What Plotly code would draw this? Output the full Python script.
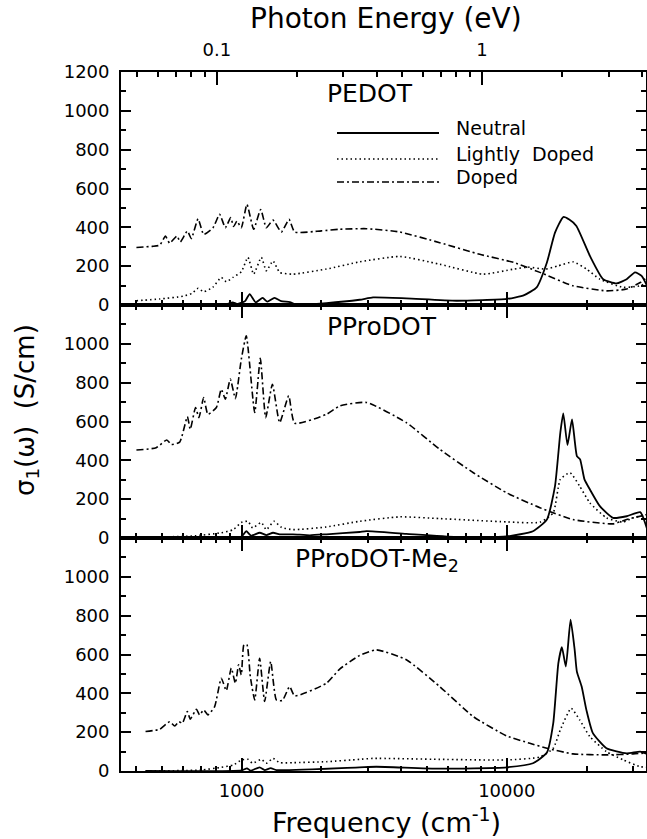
import math
import plotly.graph_objects as go

# ---------------- data ----------------
# PEDOT (top panel)
pedot_neutral_f = [400, 803, 880, 925, 960, 1000, 1030, 1072, 1130, 1200, 1250, 1330, 1410, 1520, 1600, 2088, 2785,
                   3130, 4180, 6450, 9980, 11630, 12960, 14170, 15200, 16330, 17200, 18300, 20580, 23090, 25940,
                   28320, 30450, 32250, 33800]
pedot_neutral_v = [0, 0, 5, 14, 5, 12, 20, 56, 14, 37, 17, 37, 20, 15, 3, 10, 27,
                   39, 34, 22, 31, 51, 91, 219, 373, 453, 440, 407, 253, 133, 111,
                   133, 168, 150, 99]
pedot_light_f = [401, 491, 600, 650, 685, 719, 778, 838, 875, 927, 997, 1056, 1110, 1186, 1239, 1313, 1391, 1562,
                 2088, 2785, 3947, 5584, 8140, 10630, 12000, 14000, 15500, 17780, 20000, 22440, 27500, 31860, 33800]
pedot_light_v = [22, 31, 45, 60, 86, 68, 91, 142, 120, 142, 171, 245, 159, 245, 176, 227, 168, 159,
                 185, 222, 250, 210, 159, 185, 195, 185, 200, 222, 185, 133, 91, 99, 118]
pedot_doped_f = [401, 460, 491, 516, 535, 570, 587, 624, 646, 685, 719, 780, 826, 868, 909, 933, 960, 997, 1047,
                 1110, 1180, 1239, 1313, 1412, 1509, 1585, 2000, 2343, 2955, 3947, 5584, 7906, 10630, 13330,
                 17780, 23760, 28320, 31860, 33800]
pedot_doped_v = [296, 302, 308, 355, 318, 355, 325, 381, 342, 444, 364, 398, 467, 398, 450, 404, 432, 398, 518,
                 390, 492, 398, 437, 376, 441, 376, 382, 390, 393, 376, 321, 261, 219, 168,
                 99, 73, 82, 116, 142]

# PProDOT (middle panel)
pprodot_neutral_f = [401, 900, 1000, 1041, 1085, 1170, 1239, 1313, 1391, 1562, 1808, 2088, 2785, 2955, 4180, 6450,
                     9980, 12550, 14170, 15200, 15920, 16330, 16940, 17620, 18380, 18900, 19630, 20580, 22440,
                     25160, 28320, 31860, 33800]
pprodot_neutral_v = [0, 3, 8, 35, 12, 27, 15, 27, 19, 19, 14, 19, 31, 35, 21, 5,
                     8, 35, 95, 267, 543, 642, 479, 611, 422, 405, 302, 250, 164,
                     104, 112, 133, 47]
pprodot_light_f = [401, 650, 838, 930, 997, 1056, 1100, 1186, 1239, 1325, 1412, 1562, 2088, 2785, 3947, 5584,
                   9980, 13330, 14970, 15920, 17320, 18830, 20580, 23760, 27500, 29980, 33800]
pprodot_light_v = [3, 10, 27, 43, 80, 86, 52, 80, 43, 86, 55, 43, 57, 86, 109, 100,
                   83, 81, 130, 302, 336, 267, 181, 104, 82, 104, 121]
pprodot_doped_f = [401, 476, 522, 543, 584, 624, 640, 670, 690, 719, 746, 803, 838, 868, 906, 947, 997, 1041,
                   1120, 1176, 1232, 1306, 1391, 1505, 1585, 2088, 2343, 2955, 4180, 5584, 7480, 9980, 13330,
                   17780, 25160, 28320, 33800]
pprodot_doped_v = [453, 465, 505, 482, 494, 625, 560, 672, 620, 723, 637, 672, 766, 715, 818, 718, 921, 1041,
                   646, 925, 620, 792, 594, 732, 591, 637, 680, 698, 594, 457, 336, 233, 156,
                   95, 73, 95, 121]

# PProDOT-Me2 (bottom panel)
me2_neutral_f = [434, 1000, 1047, 1080, 1169, 1221, 1287, 1352, 2785, 3220, 5584, 9980, 12550, 14170, 14970,
                 15650, 16140, 16700, 17400, 18030, 18380, 19160, 19960, 21120, 23760, 28320, 31860, 33800]
me2_neutral_v = [0, 3, 14, 2, 19, 5, 15, 5, 19, 22, 12, 19, 40, 95, 246,
                 556, 638, 538, 779, 624, 512, 435, 315, 195, 117, 91, 100, 88]
me2_light_f = [434, 700, 838, 930, 1000, 1056, 1100, 1186, 1239, 1313, 1391, 1562, 2088, 2785, 3130, 5584,
               9980, 13330, 14970, 15920, 17490, 18830, 20580, 23760, 27500, 31860, 33800]
me2_light_v = [0, 5, 19, 31, 57, 60, 40, 60, 40, 65, 43, 43, 48, 60, 65, 60,
               57, 72, 117, 212, 323, 263, 177, 100, 57, 22, 19]
me2_doped_f = [434, 491, 535, 559, 580, 597, 624, 640, 675, 694, 719, 746, 791, 838, 875, 914, 947, 974, 997,
               1020, 1047, 1078, 1120, 1169, 1221, 1287, 1352, 1424, 1517, 1585, 2088, 2343, 2785, 3220, 4180,
               5584, 7480, 9980, 12210, 14170, 17780, 23760, 29980, 33800]
me2_doped_v = [203, 215, 254, 232, 254, 246, 306, 267, 318, 289, 315, 289, 332, 478, 414, 530, 452, 547, 495,
               650, 650, 487, 366, 581, 358, 564, 366, 363, 435, 387, 452, 525, 595, 624, 573,
               435, 280, 181, 143, 117, 88, 83, 88, 93]

panel_names = ["PEDOT", "PProDOT", "PProDOT-Me<sub>2</sub>"]
legend_names = ["Neutral", "Lightly  Doped", "Doped"]

# axis ticks
freq_major = [1000, 10000]
freq_major_text = ["1000", "10000"]
freq_minor = [400, 500, 600, 700, 800, 900, 2000, 3000, 4000, 5000, 6000, 7000, 8000, 9000, 20000, 30000]
ev_major = [0.1, 1]
ev_major_text = ["0.1", "1"]
ev_minor = [0.05, 0.06, 0.07, 0.08, 0.09, 0.2, 0.3, 0.4, 0.5, 0.6, 0.7, 0.8, 0.9, 2, 3, 4]
y_major_top = [0, 200, 400, 600, 800, 1000, 1200]
y_major = [0, 200, 400, 600, 800, 1000]
y_minor = [100, 300, 500, 700, 900, 1100]

EV_TO_CM = 8065.54
XMIN, XMAX = 350.7, 33500

# ---------------- figure ----------------
FONT = "DejaVu Sans"
W, H = 647, 839
ML, MR, MT, MB = 121, 1, 72, 68
PW = W - ML - MR
PH = H - MT - MB


def px2paper_x(px):
    return (px - ML) / PW


def px2paper_y(py):
    return (H - MB - py) / PH


styles = {
    "neutral": dict(color="black", width=1.8, dash="solid"),
    "light": dict(color="black", width=1.6, dash="1.5px,3px"),
    "doped": dict(color="black", width=1.6, dash="7px,3px,2px,3px"),
}

fig = go.Figure()

panels = [
    ("x3", "y3", pedot_neutral_f, pedot_neutral_v, pedot_light_f, pedot_light_v, pedot_doped_f, pedot_doped_v),
    ("x2", "y2", pprodot_neutral_f, pprodot_neutral_v, pprodot_light_f, pprodot_light_v, pprodot_doped_f, pprodot_doped_v),
    ("x", "y", me2_neutral_f, me2_neutral_v, me2_light_f, me2_light_v, me2_doped_f, me2_doped_v),
]
for xa, ya, nf, nv, lf, lv, df, dv in panels:
    for f, v, key in ((nf, nv, "neutral"), (lf, lv, "light"), (df, dv, "doped")):
        fig.add_trace(go.Scatter(x=f, y=v, xaxis=xa, yaxis=ya, mode="lines",
                                 line=dict(shape="spline", smoothing=0.5, **styles[key]),
                                 showlegend=False, hoverinfo="skip"))

# invisible trace to anchor the top (photon energy) axis
fig.add_trace(go.Scatter(x=[e * EV_TO_CM for e in ev_major], y=[0, 0], xaxis="x4", yaxis="y3",
                         mode="markers", marker=dict(opacity=0), showlegend=False, hoverinfo="skip"))

tickfont = dict(family=FONT, size=18, color="black")
xr = [math.log10(XMIN), math.log10(XMAX)]

xcommon = dict(type="log", range=xr, showgrid=False, zeroline=False, showline=True, linewidth=1.6,
               linecolor="black", ticks="inside", ticklen=13, tickwidth=1.5, tickcolor="black",
               tickvals=freq_major, ticktext=freq_major_text, tickfont=tickfont, automargin=False,
               minor=dict(tickvals=freq_minor, ticks="inside", ticklen=5, tickwidth=1.5, tickcolor="black"))
ycommon = dict(range=[0, 1200], showgrid=False, zeroline=False, showline=True, linewidth=1.8, linecolor="black",
               ticks="inside", ticklen=10, tickwidth=1.5, tickcolor="black", mirror="ticks", tickfont=tickfont,
               minor=dict(tickvals=y_minor, ticks="inside", ticklen=5, tickwidth=1.5, tickcolor="black"),
               ticklabelstandoff=6, automargin=False)

fig.update_layout(
    width=W, height=H, margin=dict(l=ML, r=MR, t=MT, b=MB),
    paper_bgcolor="white", plot_bgcolor="white",
    font=dict(family=FONT, color="black"),
    xaxis=dict(xcommon, anchor="y", domain=[0, 1], mirror="ticks", ticklabelstandoff=3),
    xaxis2=dict(xcommon, anchor="y2", domain=[0, 1], mirror="ticks", showticklabels=False),
    xaxis3=dict(xcommon, anchor="y3", domain=[0, 1], mirror=False, showticklabels=False),
    xaxis4=dict(type="log", range=xr, overlaying="x3", side="top", anchor="y3", showgrid=False, zeroline=False,
                showline=True, linewidth=1.8, linecolor="black", ticks="inside", ticklen=13, tickwidth=1.5,
                tickcolor="black", tickvals=[e * EV_TO_CM for e in ev_major], ticktext=ev_major_text,
                tickfont=tickfont, ticklabelstandoff=7, automargin=False,
                minor=dict(tickvals=[e * EV_TO_CM for e in ev_minor], ticks="inside", ticklen=5, tickwidth=1.5,
                           tickcolor="black")),
    yaxis=dict(ycommon, anchor="x", domain=[0, 1 / 3], tickvals=y_major),
    yaxis2=dict(ycommon, anchor="x2", domain=[1 / 3, 2 / 3], tickvals=y_major),
    yaxis3=dict(ycommon, anchor="x3", domain=[2 / 3, 1], tickvals=y_major_top),
)

ann = []
# panel labels
for name, left_px, cy in zip(panel_names, [325, 325, 293], [93, 326, 560]):
    ann.append(dict(text=name, xref="paper", yref="paper", x=px2paper_x(left_px), y=px2paper_y(cy),
                    xanchor="left", yanchor="middle", showarrow=False, font=dict(family=FONT, size=25)))
# legend
leg_y = [133, 159, 182]
leg_keys = ["neutral", "light", "doped"]
shapes = []
for name, ly, key in zip(legend_names, leg_y, leg_keys):
    st = styles[key]
    shapes.append(dict(type="line", xref="paper", yref="paper", x0=px2paper_x(337), x1=px2paper_x(439),
                       y0=px2paper_y(ly), y1=px2paper_y(ly), line=dict(color="black", width=st["width"], dash=st["dash"])))
    ann.append(dict(text=name, xref="paper", yref="paper", x=px2paper_x(454), y=px2paper_y(ly - 5),
                    xanchor="left", yanchor="middle", showarrow=False, font=dict(family=FONT, size=19)))
# axis titles
ann.append(dict(text="Photon Energy (eV)", xref="paper", yref="paper", x=px2paper_x(386), y=px2paper_y(19),
                xanchor="center", yanchor="middle", showarrow=False, font=dict(family=FONT, size=28)))
ann.append(dict(text="Frequency (cm<sup>-1</sup>)", xref="paper", yref="paper", x=px2paper_x(386),
                y=px2paper_y(820), xanchor="center", yanchor="middle", showarrow=False,
                font=dict(family=FONT, size=27)))
ann.append(dict(text="σ<sub>1</sub>(ω)  (S/cm)", xref="paper", yref="paper", x=px2paper_x(26),
                y=px2paper_y(410), xanchor="center", yanchor="middle", textangle=-90, showarrow=False,
                font=dict(family=FONT, size=26)))

fig.update_layout(annotations=ann, shapes=shapes)
fig.write_html("out.html", config={"displayModeBar": False},
               post_script="document.body.style.margin='0px';document.body.style.overflow='hidden';")
